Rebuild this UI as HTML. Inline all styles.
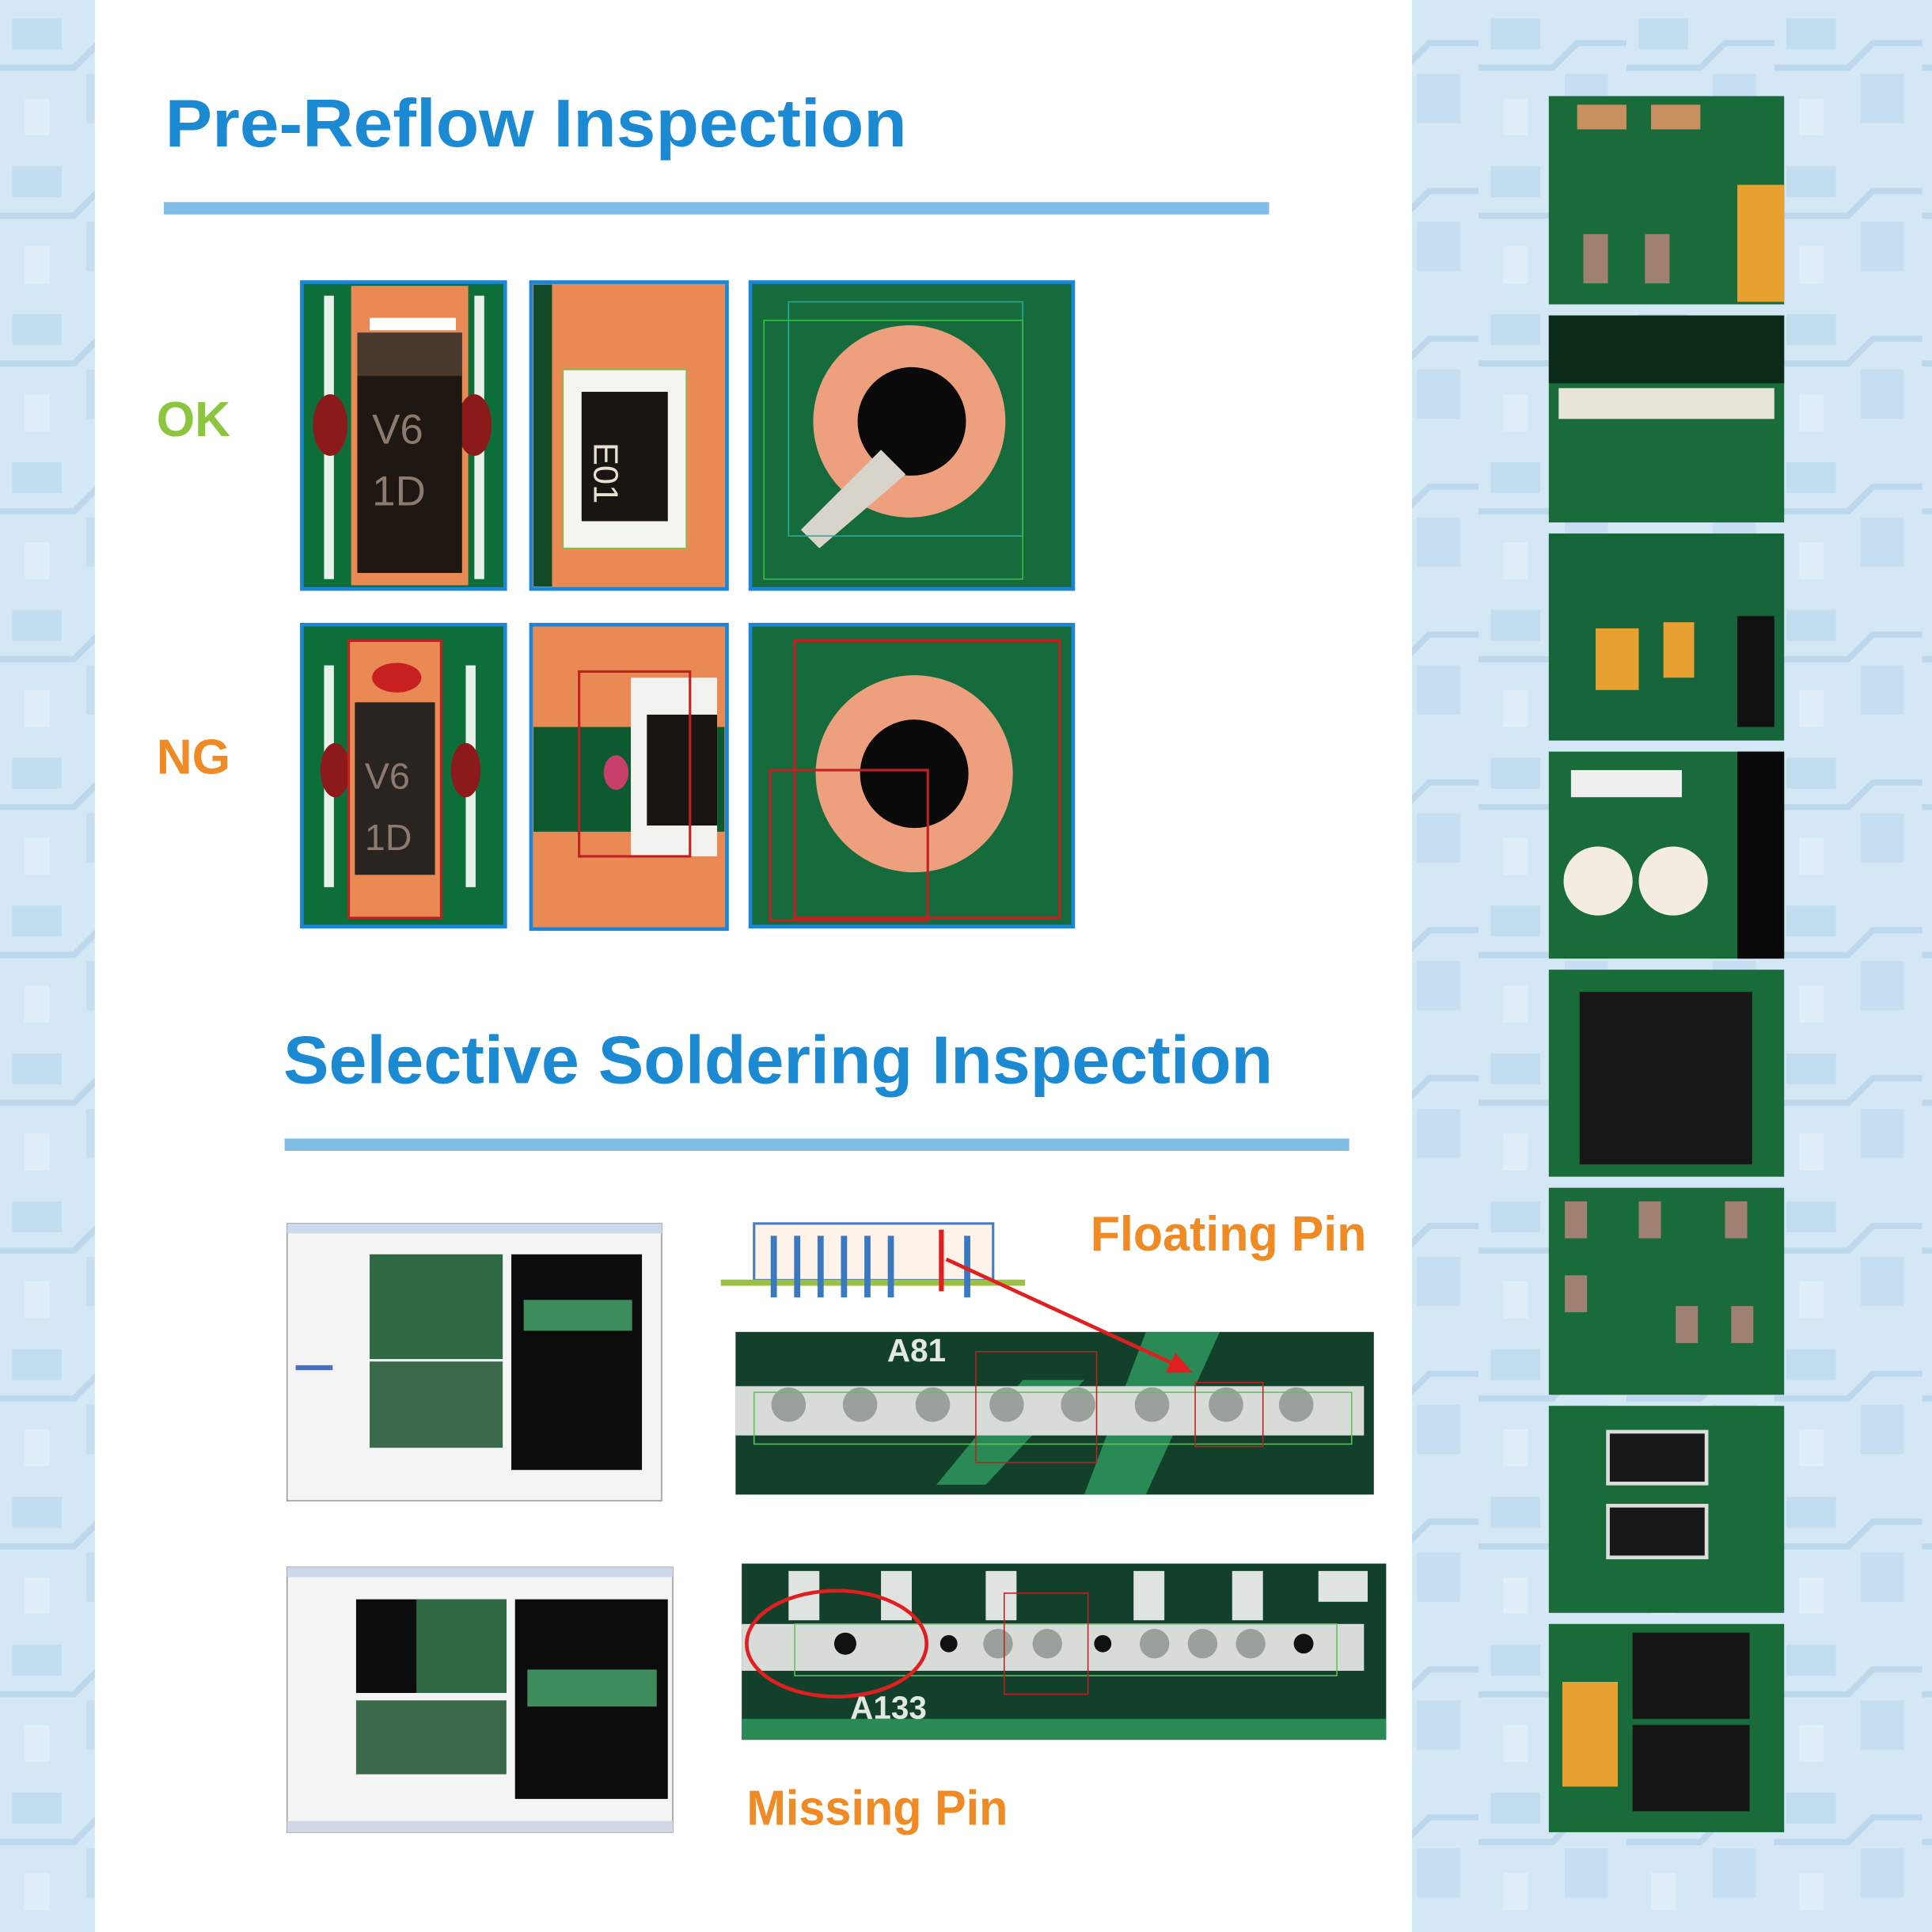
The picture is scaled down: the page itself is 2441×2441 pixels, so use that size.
<!DOCTYPE html>
<html><head><meta charset="utf-8"><style>html,body{margin:0;padding:0;background:#cfe4f3}svg{display:block}</style></head>
<body>
<svg width="2441" height="2441" viewBox="0 0 1568 1568" xmlns="http://www.w3.org/2000/svg" font-family="Liberation Sans, sans-serif">
<defs>
<pattern id="bgp" width="120" height="120" patternUnits="userSpaceOnUse">
<rect width="120" height="120" fill="#d3e7f5"/>
<rect x="10" y="15" width="40" height="25" fill="#c2dcf0"/>
<rect x="70" y="60" width="35" height="40" fill="#c6def1"/>
<rect x="20" y="80" width="20" height="30" fill="#e0eef8"/>
<path d="M0 55 H60 L80 35 H120" stroke="#bdd7ec" stroke-width="5" fill="none"/>
</pattern>
</defs>
<rect width="1568" height="1568" fill="url(#bgp)"/>
<rect x="77" y="0" width="1069" height="1568" fill="#ffffff"/>

<!-- Titles -->
<text x="134" y="119" font-size="55" font-weight="bold" fill="#1b8ad3" textLength="602" lengthAdjust="spacingAndGlyphs">Pre-Reflow Inspection</text>
<rect x="133" y="164" width="897" height="10" fill="#7fbde6"/>
<text x="127" y="354" font-size="40" font-weight="bold" fill="#8cc63f">OK</text>
<text x="127" y="628" font-size="40" font-weight="bold" fill="#f08a24">NG</text>

<!-- OK row -->
<g>
<rect x="245" y="229" width="165" height="249" fill="#0e6e3a" stroke="#1b86d8" stroke-width="3"/>
<rect x="285" y="232" width="95" height="243" fill="#e98a55"/>
<rect x="263" y="240" width="8" height="230" fill="#e8f0ea"/><rect x="385" y="240" width="8" height="230" fill="#e8f0ea"/>
<ellipse cx="268" cy="345" rx="14" ry="25" fill="#8c1a1a"/><ellipse cx="385" cy="345" rx="14" ry="25" fill="#8c1a1a"/>
<rect x="290" y="270" width="85" height="195" fill="#1f1812"/><rect x="290" y="270" width="85" height="35" fill="#4a3a2e"/>
<rect x="300" y="258" width="70" height="10" fill="#fff"/>
<text x="302" y="360" font-size="34" fill="#8a7a70">V6</text><text x="302" y="410" font-size="34" fill="#8a7a70">1D</text>
</g>
<g>
<rect x="431" y="229" width="159" height="249" fill="#e98a55" stroke="#1b86d8" stroke-width="3"/>
<rect x="433" y="231" width="15" height="245" fill="#134a2a"/>
<rect x="457" y="300" width="100" height="145" fill="#f5f5f0" stroke="#7bc04a"/>
<rect x="472" y="318" width="70" height="105" fill="#1a1510"/>
<text x="496" y="395" font-size="28" fill="#e8e0d0" transform="rotate(90 507 370)">E01</text>
</g>
<g>
<rect x="609" y="229" width="262" height="249" fill="#156b3c" stroke="#1b86d8" stroke-width="3"/>
<circle cx="738" cy="342" r="78" fill="#eea07e"/><circle cx="740" cy="342" r="44" fill="#0a0a0a"/>
<path d="M650 430 L715 365 L735 385 L665 445 Z" fill="#d8d4cc"/>
<rect x="640" y="245" width="190" height="190" fill="none" stroke="#2aa8a0"/>
<rect x="620" y="260" width="210" height="210" fill="none" stroke="#3ac040"/>
</g>

<!-- NG row -->
<g>
<rect x="245" y="507" width="165" height="245" fill="#0e6e3a" stroke="#1b86d8" stroke-width="3"/>
<rect x="263" y="540" width="8" height="180" fill="#e8f0ea"/><rect x="378" y="540" width="8" height="180" fill="#e8f0ea"/>
<ellipse cx="272" cy="625" rx="12" ry="22" fill="#8c1a1a"/><ellipse cx="378" cy="625" rx="12" ry="22" fill="#8c1a1a"/>
<rect x="283" y="520" width="75" height="225" fill="#e98a55" stroke="#c02020" stroke-width="2"/>
<ellipse cx="322" cy="550" rx="20" ry="12" fill="#c82020"/>
<rect x="288" y="570" width="65" height="140" fill="#2a2420"/>
<text x="296" y="640" font-size="30" fill="#8a7a70">V6</text><text x="296" y="690" font-size="30" fill="#8a7a70">1D</text>
</g>
<g>
<rect x="431" y="507" width="159" height="247" fill="#e98a55" stroke="#1b86d8" stroke-width="3"/>
<rect x="433" y="590" width="155" height="85" fill="#0e5a30"/>
<rect x="512" y="550" width="70" height="145" fill="#f2f2ee"/>
<rect x="525" y="580" width="57" height="90" fill="#1a1510"/>
<ellipse cx="500" cy="627" rx="10" ry="14" fill="#c8406a"/>
<rect x="470" y="545" width="90" height="150" fill="none" stroke="#c02020" stroke-width="2"/>
</g>
<g>
<rect x="609" y="507" width="262" height="245" fill="#156b3c" stroke="#1b86d8" stroke-width="3"/>
<circle cx="742" cy="628" r="80" fill="#eea07e"/><circle cx="742" cy="628" r="44" fill="#0a0a0a"/>
<rect x="645" y="520" width="215" height="225" fill="none" stroke="#c02020" stroke-width="2"/>
<rect x="625" y="625" width="128" height="122" fill="none" stroke="#c02020" stroke-width="2"/>
</g>

<!-- Section 2 -->
<text x="230" y="879" font-size="55" font-weight="bold" fill="#1b8ad3" textLength="803" lengthAdjust="spacingAndGlyphs">Selective Soldering Inspection</text>
<rect x="231" y="924" width="864" height="10" fill="#7fbde6"/>

<!-- screenshots -->
<g>
<rect x="233" y="993" width="304" height="225" fill="#f4f4f4" stroke="#9a9a9a"/>
<rect x="233" y="993" width="304" height="8" fill="#cdd8ea"/>
<rect x="300" y="1018" width="108" height="85" fill="#2f6a45"/>
<rect x="300" y="1105" width="108" height="70" fill="#3a6a4a"/>
<rect x="415" y="1018" width="106" height="175" fill="#0c0c0c"/>
<rect x="425" y="1055" width="88" height="25" fill="#3c8c5c"/>
<rect x="240" y="1108" width="30" height="4" fill="#4a70c0"/>
</g>
<g>
<rect x="233" y="1272" width="313" height="215" fill="#f4f4f4" stroke="#9a9a9a"/>
<rect x="233" y="1272" width="313" height="8" fill="#cdd8ea"/>
<rect x="289" y="1298" width="122" height="76" fill="#0c0c0c"/>
<rect x="338" y="1298" width="73" height="76" fill="#2f6a45"/>
<rect x="289" y="1380" width="122" height="60" fill="#3a6a4a"/>
<rect x="418" y="1298" width="124" height="162" fill="#0c0c0c"/>
<rect x="428" y="1355" width="105" height="30" fill="#3c8c5c"/>
<rect x="233" y="1478" width="313" height="9" fill="#d0d8e8"/>
</g>

<!-- PCB strip 1 -->
<g>
<rect x="597" y="1081" width="518" height="132" fill="#12402a"/>
<path d="M600 1205 L760 1205 L830 1120 L880 1120 L800 1205 Z" fill="#2a8a55"/>
<path d="M930 1081 L990 1081 L930 1213 L880 1213 Z" fill="#2a8a55"/>
<rect x="597" y="1125" width="510" height="40" fill="#d8dcd8"/>
<text x="720" y="1105" font-size="26" font-weight="bold" fill="#e0e8e0">A81</text>
<g fill="#9aa09a">
<circle cx="640" cy="1140" r="14"/><circle cx="698" cy="1140" r="14"/><circle cx="757" cy="1140" r="14"/><circle cx="817" cy="1140" r="14"/><circle cx="875" cy="1140" r="14"/><circle cx="935" cy="1140" r="14"/><circle cx="995" cy="1140" r="14"/><circle cx="1052" cy="1140" r="14"/>
</g>
<rect x="612" y="1130" width="485" height="42" fill="none" stroke="#60c060"/>
<rect x="792" y="1097" width="98" height="90" fill="none" stroke="#c02020"/>
<rect x="970" y="1122" width="55" height="52" fill="none" stroke="#c02020"/>
</g>

<!-- pin diagram + arrow (drawn on top) -->
<g>
<rect x="612" y="993" width="194" height="46" fill="#fdf3e8" stroke="#4a7ac0" stroke-width="2"/>
<line x1="585" y1="1041" x2="832" y2="1041" stroke="#9cc040" stroke-width="5"/>
<g stroke="#3a78c0" stroke-width="5">
<line x1="628" y1="1003" x2="628" y2="1053"/><line x1="647" y1="1003" x2="647" y2="1053"/><line x1="666" y1="1003" x2="666" y2="1053"/><line x1="685" y1="1003" x2="685" y2="1053"/><line x1="704" y1="1003" x2="704" y2="1053"/><line x1="723" y1="1003" x2="723" y2="1053"/><line x1="785" y1="1003" x2="785" y2="1053"/>
</g>
<line x1="764" y1="998" x2="764" y2="1048" stroke="#e02020" stroke-width="4"/>
<line x1="768" y1="1022" x2="955" y2="1108" stroke="#e02020" stroke-width="3"/>
<path d="M968 1114 L946 1114 L954 1098 Z" fill="#e02020"/>
</g>
<text x="885" y="1015" font-size="40" font-weight="bold" fill="#f08a24" textLength="224" lengthAdjust="spacingAndGlyphs">Floating Pin</text>

<!-- PCB strip 2 -->
<g>
<rect x="602" y="1269" width="523" height="143" fill="#12402a"/>
<rect x="602" y="1395" width="523" height="17" fill="#2a8a55"/>
<rect x="602" y="1318" width="505" height="38" fill="#d8dcd8"/>
<g fill="#e0e4e0"><rect x="640" y="1275" width="25" height="40"/><rect x="715" y="1275" width="25" height="40"/><rect x="800" y="1275" width="25" height="40"/><rect x="920" y="1275" width="25" height="40"/><rect x="1000" y="1275" width="25" height="40"/><rect x="1070" y="1275" width="40" height="25"/></g>
<g fill="#9aa09a">
<circle cx="810" cy="1334" r="12"/><circle cx="850" cy="1334" r="12"/><circle cx="937" cy="1334" r="12"/><circle cx="976" cy="1334" r="12"/><circle cx="1015" cy="1334" r="12"/>
</g>
<g fill="#111"><circle cx="686" cy="1334" r="9"/><circle cx="770" cy="1334" r="7"/><circle cx="895" cy="1334" r="7"/><circle cx="1058" cy="1334" r="8"/></g>
<rect x="645" y="1318" width="440" height="42" fill="none" stroke="#60c060"/>
<rect x="815" y="1293" width="68" height="82" fill="none" stroke="#c02020"/>
<ellipse cx="679" cy="1334" rx="73" ry="43" fill="none" stroke="#e02020" stroke-width="3"/>
<text x="690" y="1395" font-size="26" font-weight="bold" fill="#e0e8e0">A133</text>
</g>
<text x="606" y="1481" font-size="40" font-weight="bold" fill="#f08a24" textLength="212" lengthAdjust="spacingAndGlyphs">Missing Pin</text>

<!-- right thumbnails -->
<g>
<rect x="1257" y="78" width="191" height="169" fill="#1a6b3a"/>
<rect x="1280" y="85" width="40" height="20" fill="#c89060"/><rect x="1340" y="85" width="40" height="20" fill="#c89060"/><rect x="1410" y="150" width="38" height="95" fill="#e8a030"/>
<rect x="1285" y="190" width="20" height="40" fill="#a08070"/><rect x="1335" y="190" width="20" height="40" fill="#a08070"/>
<rect x="1257" y="256" width="191" height="168" fill="#1a6b3a"/>
<rect x="1257" y="256" width="191" height="55" fill="#0c2a18"/><rect x="1265" y="315" width="175" height="25" fill="#e8e4d8"/>
<rect x="1257" y="433" width="191" height="168" fill="#16643a"/>
<rect x="1295" y="510" width="35" height="50" fill="#e8a030"/><rect x="1350" y="505" width="25" height="45" fill="#e8a030"/><rect x="1410" y="500" width="30" height="90" fill="#101010"/>
<rect x="1257" y="610" width="191" height="168" fill="#1a6b3a"/>
<rect x="1410" y="610" width="38" height="168" fill="#0a0a0a"/>
<rect x="1275" y="625" width="90" height="22" fill="#f0f0f0"/>
<circle cx="1297" cy="715" r="28" fill="#f4ece0"/><circle cx="1358" cy="715" r="28" fill="#f4ece0"/>
<rect x="1257" y="787" width="191" height="168" fill="#1a6b3a"/>
<rect x="1282" y="805" width="140" height="140" fill="#181818"/>
<rect x="1257" y="964" width="191" height="168" fill="#1a6b3a"/>
<g fill="#a08070"><rect x="1270" y="975" width="18" height="30"/><rect x="1330" y="975" width="18" height="30"/><rect x="1400" y="975" width="18" height="30"/><rect x="1270" y="1035" width="18" height="30"/><rect x="1360" y="1060" width="18" height="30"/><rect x="1405" y="1060" width="18" height="30"/></g>
<rect x="1257" y="1141" width="191" height="168" fill="#1a6b3a"/>
<rect x="1305" y="1162" width="80" height="42" fill="#181818" stroke="#ddd" stroke-width="3"/><rect x="1305" y="1222" width="80" height="42" fill="#181818" stroke="#ddd" stroke-width="3"/>
<rect x="1257" y="1318" width="191" height="169" fill="#1a6b3a"/>
<rect x="1325" y="1325" width="95" height="70" fill="#151515"/><rect x="1325" y="1400" width="95" height="70" fill="#151515"/>
<rect x="1268" y="1365" width="45" height="85" fill="#e8a030"/>
</g>
</svg>
</body></html>
